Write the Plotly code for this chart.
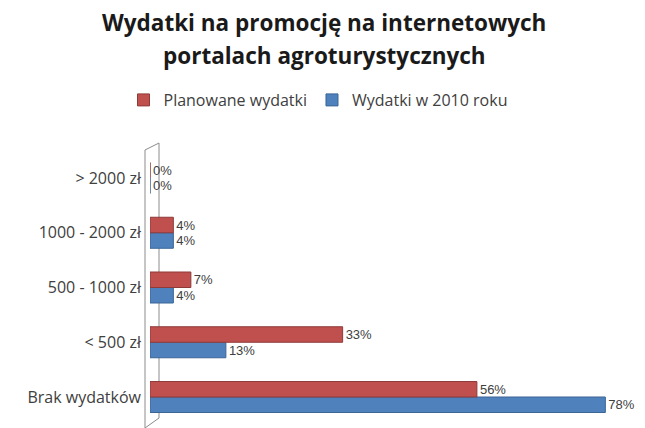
import plotly.graph_objects as go

categories = ["Brak wydatków", "< 500 zł", "500 - 1000 zł", "1000 - 2000 zł", "> 2000 zł"]
planowane = [56, 33, 7, 4, 0]
wydatki_2010 = [78, 13, 4, 4, 0]

RED = "#C0504D"
BLUE = "#4F81BD"
TXT = "#404040"
FONT = "Open Sans"
LABEL_FONT = "Liberation Sans"

OFF = 8  # page body margin
W, H = 645, 428
L, R, T, B = 142, 36, 140, 8
ph = H - T - B
pw = W - L - R

def py(pix):  # page pixel -> paper y
    return (H - B - (pix - OFF)) / ph

def px(pix):  # page pixel -> paper x
    return (pix - OFF - L) / pw

fig = go.Figure()
fig.add_trace(go.Bar(
    y=categories, x=wydatki_2010, orientation="h", name="Wydatki w 2010 roku",
    marker=dict(color=BLUE, line=dict(color="#3A6595", width=1)),
    text=[f"{v}%" for v in wydatki_2010], textposition="outside",
    textfont=dict(color=TXT, size=13, family=LABEL_FONT), constraintext="none",
    cliponaxis=False, legendrank=2,
))
fig.add_trace(go.Bar(
    y=categories, x=planowane, orientation="h", name="Planowane wydatki",
    marker=dict(color=RED, line=dict(color="#8E3A38", width=1)),
    text=[f"{v}%" for v in planowane], textposition="outside",
    textfont=dict(color=TXT, size=13, family=LABEL_FONT), constraintext="none",
    cliponaxis=False, legendrank=1,
))

wall = "#8C8C8C"
shapes = [
    dict(type="line", xref="paper", yref="paper", x0=px(159), x1=px(159), y0=py(143), y1=py(418),
         line=dict(color=wall, width=1), layer="below"),
    dict(type="line", xref="paper", yref="paper", x0=px(145), x1=px(145), y0=py(150), y1=py(430),
         line=dict(color=wall, width=1)),
    dict(type="line", xref="paper", yref="paper", x0=px(145), x1=px(159), y0=py(150), y1=py(143),
         line=dict(color=wall, width=1)),
    dict(type="line", xref="paper", yref="paper", x0=px(145), x1=px(159), y0=py(428), y1=py(418),
         line=dict(color=wall, width=1)),
]

fig.update_layout(
    width=W, height=H,
    margin=dict(l=L, r=R, t=T, b=B, autoexpand=False),
    paper_bgcolor="white", plot_bgcolor="rgba(0,0,0,0)",
    barmode="group", bargap=0.434, bargroupgap=0,
    font=dict(family=FONT, color=TXT, size=15),
    showlegend=True,
    legend=dict(orientation="h", x=px(318), xanchor="center",
                y=py(100), yanchor="middle", font=dict(size=16, color=TXT, family=FONT),
                traceorder="normal"),
    xaxis=dict(range=[0, 80], visible=False, showgrid=False, zeroline=False),
    yaxis=dict(range=[-0.566, 4.548], showline=False,
               ticks="", showgrid=False, ticklabelstandoff=8,
               tickfont=dict(size=16, color=TXT, family=FONT)),
    shapes=shapes,
    annotations=[
        dict(text="<b>Wydatki na promocję na internetowych</b>", x=px(324), xref="paper",
             xanchor="center", y=py(22), yref="paper", yanchor="middle",
             showarrow=False, font=dict(size=22.5, color="#1a1a1a", family=FONT)),
        dict(text="<b>portalach agroturystycznych</b>", x=px(324), xref="paper",
             xanchor="center", y=py(55), yref="paper", yanchor="middle",
             showarrow=False, font=dict(size=22.5, color="#1a1a1a", family=FONT)),
    ],
)

fig.write_html("out.html")
